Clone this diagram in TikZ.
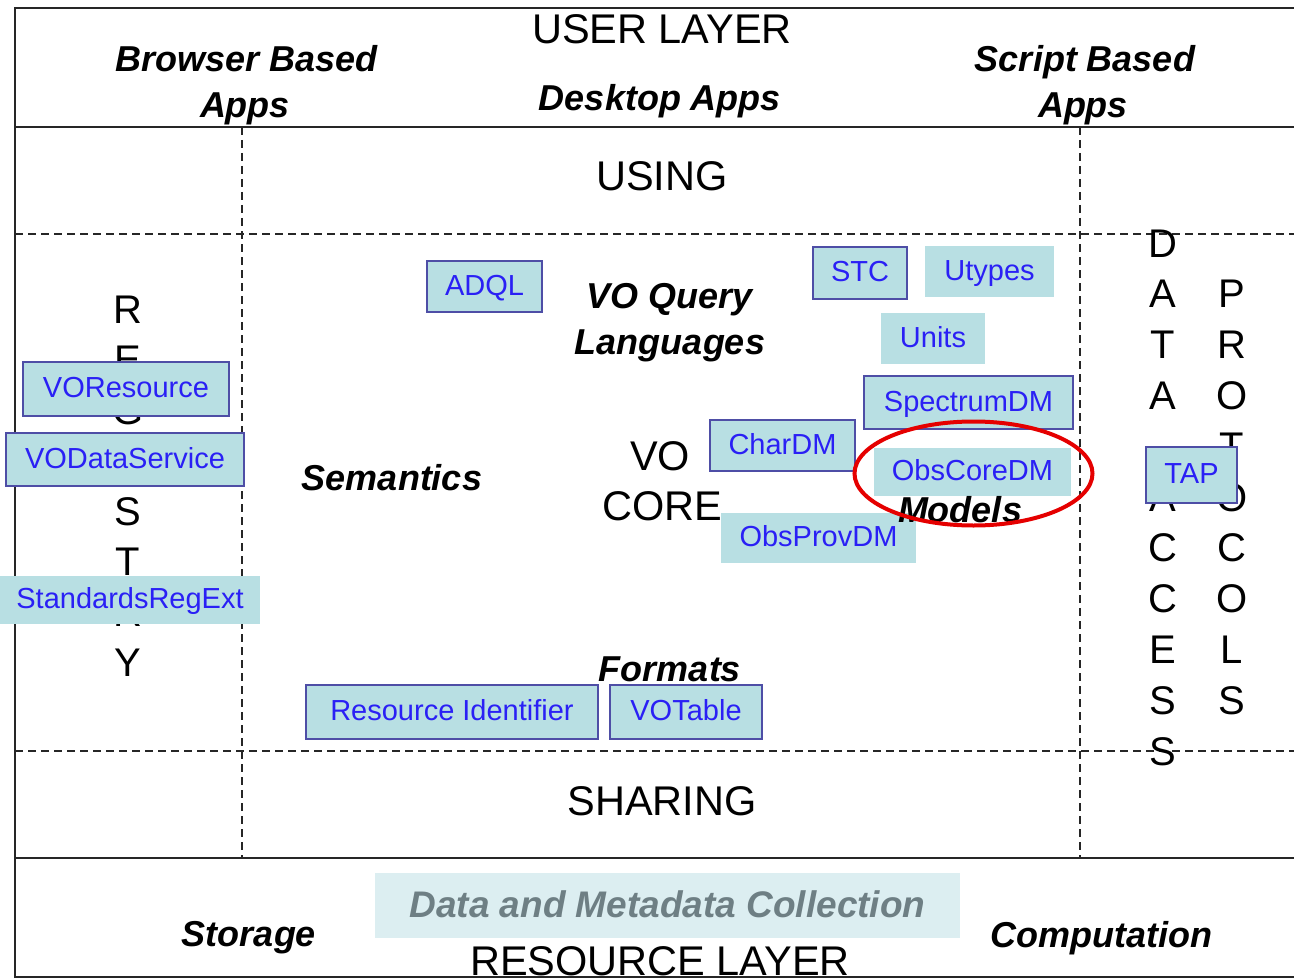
\documentclass[tikz,border=0pt]{standalone}
\usepackage{fontspec}
\setmainfont{Liberation Sans}
\usetikzlibrary{shapes.geometric}
\definecolor{boxfill}{HTML}{B8DFE3}
\definecolor{boxtext}{HTML}{2A20F5}
\definecolor{boxborder}{HTML}{4E4EA6}
\definecolor{palefill}{HTML}{DCEEF1}
\definecolor{paletext}{HTML}{6E7F84}
\tikzset{
  frameline/.style={line width=2.2pt, draw=black!85},
  dashline/.style={line width=1.8pt, draw=black!85, dash pattern=on 8pt off 5pt},
  big/.style={font=\fontsize{41.5}{44}\selectfont, inner sep=0pt, anchor=base},
  lab/.style={font=\fontsize{36}{40}\selectfont\bfseries\itshape, inner sep=0pt, anchor=base},
  letter/.style={font=\fontsize{40}{44}\selectfont, inner sep=0pt, anchor=base},
  std/.style={fill=boxfill, text=boxtext, font=\fontsize{29}{32}\selectfont, inner sep=0pt, text height=21pt, text depth=4pt},
  bstd/.style={std, draw=boxborder, line width=1.8pt},
}
\begin{document}
\begin{tikzpicture}[x=1pt, y=-1pt]
\useasboundingbox (0,0) rectangle (1294,979);
% frame
\coordinate (tl) at (15,8);
\coordinate (tr) at (1294,8);
\coordinate (ul) at (15,127);
\coordinate (ur) at (1294,127);
\coordinate (sl) at (15,858);
\coordinate (sr) at (1294,858);
\coordinate (bl) at (15,977);
\coordinate (br) at (1294,977);
\draw[frameline] (tr) -- (tl) -- (bl) -- (br);
\draw[frameline] (ul) -- (ur);
\draw[frameline] (sl) -- (sr);
% dashed grid
\coordinate (d1l) at (15,234);
\coordinate (d1r) at (1294,234);
\coordinate (d2l) at (15,751);
\coordinate (d2r) at (1294,751);
\coordinate (v1t) at (242,127);
\coordinate (v1b) at (242,858);
\coordinate (v2t) at (1080,127);
\coordinate (v2b) at (1080,858);
\draw[dashline] (d1l) -- (d1r);
\draw[dashline] (d2l) -- (d2r);
\draw[dashline] (v1t) -- (v1b);
\draw[dashline] (v2t) -- (v2b);
% vertical words
\foreach \c [count=\i from 0] in {R,E,G,I,S,T,R,Y}
  \node[letter] (reg\i) at (128,323+50.5*\i) {\c};
\foreach \c [count=\i from 0] in {D,A,T,A,{},A,C,C,E,S,S}
  \node[letter] (da\i) at (1163,257+50.8*\i) {\c};
\foreach \c [count=\i from 1] in {P,R,O,T,O,C,O,L,S}
  \node[letter] (pr\i) at (1232,257+50.8*\i) {\c};
% layer texts
\node[big] (userlayer) at (662,44) {USER LAYER};
\node[lab] (bb1) at (247,72) {Browser Based};
\node[lab] (bb2) at (245,118) {Apps};
\node[lab] (desk) at (660,111) {Desktop Apps};
\node[lab] (sb1) at (1085,72) {Script Based};
\node[lab] (sb2) at (1083,118) {Apps};
\node[big] (using) at (662,190) {USING};
\node[lab] (vq1) at (670,308) {VO Query};
\node[lab] (vq2) at (670,354) {Languages};
\node[lab] (sem) at (392,490) {Semantics};
\node[big] (vo) at (660,470) {VO};
\node[big] (core) at (662,520) {CORE};
\node[lab] (formats) at (670,681) {Formats};
\node[big] (sharing) at (662,815) {SHARING};
\node[lab] (storage) at (249,946) {Storage};
\node[lab] (comp) at (1101,947) {Computation};
\node[big] (reslayer) at (660,975) {RESOURCE LAYER};
% boxes
\node[bstd, minimum width=115, minimum height=51] (adql) at (484.5,286.5) {ADQL};
\node[bstd, minimum width=94, minimum height=52] (stc) at (860,273) {STC};
\node[std, minimum width=129, minimum height=51] (utypes) at (989.5,271.5) {Utypes};
\node[std, minimum width=104, minimum height=51] (units) at (933,338.5) {Units};
\node[bstd, minimum width=209, minimum height=53] (spec) at (968.5,402.5) {SpectrumDM};
\node[bstd, minimum width=145, minimum height=51] (char) at (782.5,445.5) {CharDM};
\node[std, minimum width=197, minimum height=48] (obscore) at (972.5,472) {ObsCoreDM};
\node[std, minimum width=195, minimum height=50] (obsprov) at (818.5,538) {ObsProvDM};
\node[bstd, minimum width=91, minimum height=56] (tap) at (1191.5,475) {TAP};
\node[bstd, minimum width=206, minimum height=54] (vores) at (126,389) {VOResource};
\node[bstd, minimum width=238, minimum height=53] (vods) at (125,459.5) {VODataService};
\node[std, minimum width=260, minimum height=48] (sre) at (130,600) {StandardsRegExt};
\node[bstd, minimum width=292, minimum height=54] (resid) at (452,712) {Resource Identifier};
\node[bstd, minimum width=152, minimum height=54] (votable) at (686,712) {VOTable};
\node[fill=palefill, text=paletext, font=\fontsize{37}{40}\selectfont\bfseries\itshape, inner sep=0pt, text height=27pt, text depth=4pt, minimum width=585, minimum height=65] (dmc) at (667.5,905.5) {Data and Metadata Collection};
\node[lab] (models) at (960,522) {Models};
% highlight
\node[draw=red!90!black, ellipse, line width=4pt, minimum width=238, minimum height=104, inner sep=0pt] (hl) at (973.5,473.5) {};
\end{tikzpicture}
\end{document}
